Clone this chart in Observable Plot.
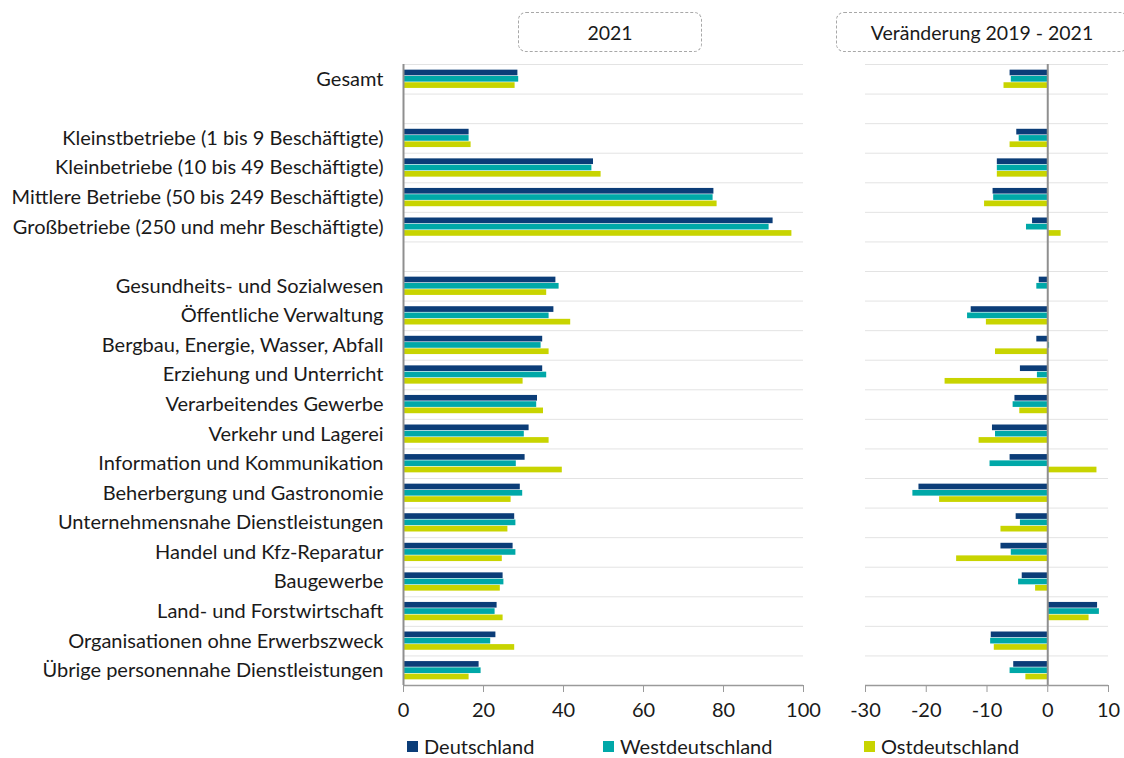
<!DOCTYPE html>
<html><head><meta charset="utf-8">
<script src="https://cdn.jsdelivr.net/npm/d3@7"></script>
<script src="https://cdn.jsdelivr.net/npm/@observablehq/plot@0.6"></script>
<style>
body{margin:0;background:#fff;overflow:hidden;font-family:Lato,sans-serif;}
#wrap{position:relative;width:1124px;height:758px;overflow:hidden;background:#fff;}
.panel{position:absolute;top:0;}
.box{position:absolute;top:12px;height:40px;border:1.5px dashed #a8a8a8;border-radius:8px;box-sizing:border-box;display:flex;align-items:center;justify-content:center;font-size:19.5px;color:#1a1a1a;background:#fff;}
.leg{position:absolute;top:735px;font-size:20px;line-height:22px;color:#1a1a1a;display:flex;align-items:center;height:22px;}
.sw{width:11px;height:11px;margin-right:6px;}
</style></head><body>
<div id="wrap"></div>
<script>
const categories = [
  "Gesamt", "",
  "Kleinstbetriebe (1 bis 9 Beschäftigte)",
  "Kleinbetriebe (10 bis 49 Beschäftigte)",
  "Mittlere Betriebe (50 bis 249 Beschäftigte)",
  "Großbetriebe (250 und mehr Beschäftigte)", " ",
  "Gesundheits- und Sozialwesen",
  "Öffentliche Verwaltung",
  "Bergbau, Energie, Wasser, Abfall",
  "Erziehung und Unterricht",
  "Verarbeitendes Gewerbe",
  "Verkehr und Lagerei",
  "Information und Kommunikation",
  "Beherbergung und Gastronomie",
  "Unternehmensnahe Dienstleistungen",
  "Handel und Kfz-Reparatur",
  "Baugewerbe",
  "Land- und Forstwirtschaft",
  "Organisationen ohne Erwerbszweck",
  "Übrige personennahe Dienstleistungen"
];
const seriesNames = ["Deutschland", "Westdeutschland", "Ostdeutschland"];
const seriesColors = ["#0b3d78", "#00a8a8", "#c8d400"];

// 2021 (%)
const deutschland2021 = [28.6, null, 16.4, 47.5, 77.6, 92.4, null, 38.1, 37.6, 34.8, 34.8, 33.5, 31.4, 30.4, 29.2, 27.8, 27.4, 24.9, 23.4, 23.1, 18.9];
const west2021        = [28.8, null, 16.4, 47.1, 77.4, 91.4, null, 38.9, 36.4, 34.4, 35.8, 33.3, 30.2, 28.2, 29.8, 28.1, 28.1, 25.1, 22.9, 21.8, 19.4];
const ost2021         = [27.9, null, 16.9, 49.4, 78.4, 97.1, null, 35.8, 41.8, 36.4, 29.9, 35.0, 36.4, 39.7, 26.9, 26.1, 24.7, 24.2, 24.9, 27.8, 16.4];

// Veränderung 2019 - 2021 (Prozentpunkte)
const deutschlandChange = [-6.2, null, -5.1, -8.3, -9.0, -2.5, null, -1.4, -12.6, -1.8, -4.5, -5.4, -9.1, -6.2, -21.2, -5.2, -7.7, -4.2, 8.2, -9.3, -5.6];
const westChange        = [-6.0, null, -4.7, -8.3, -8.9, -3.5, null, -1.8, -13.2, 0.3, -1.7, -5.7, -8.6, -9.5, -22.2, -4.5, -6.0, -4.8, 8.5, -9.4, -6.2];
const ostChange         = [-7.2, null, -6.2, -8.3, -10.4, 2.2, null, null, -10.1, -8.6, -16.9, -4.6, -11.3, 8.1, -17.8, -7.7, -15.0, -2.0, 6.8, -8.8, -3.6];

const xTicksLeft = [0, 20, 40, 60, 80, 100];
const xTicksRight = [-30, -20, -10, 0, 10];

const offsets = [-0.213, 0, 0.213];
const half = 0.096;

function toRows(arrays) {
  const out = [];
  categories.forEach((c, i) => {
    arrays.forEach((arr, s) => {
      const v = arr[i];
      if (v != null) out.push({row: i, series: seriesNames[s], s, value: v});
    });
  });
  return out;
}
const dataLeft = toRows([deutschland2021, west2021, ost2021]);
const dataRight = toRows([deutschlandChange, westChange, ostChange]);

const boundaries = categories.map((_, i) => i - 0.5);
const labelRows = categories.map((c, i) => i).filter(i => categories[i].trim() !== "");
const yDomain = [categories.length - 0.5, -0.5];
const textColor = "#1a1a1a";
const font = "Lato, sans-serif";

const color = {domain: seriesNames, range: seriesColors};

function barsMark(data) {
  return Plot.rect(data, {
    x1: () => 0,
    x2: "value",
    y1: d => d.row + offsets[d.s] - half,
    y2: d => d.row + offsets[d.s] + half,
    fill: "series"
  });
}

const left = Plot.plot({
  width: 830, height: 728,
  marginLeft: 403, marginRight: 27, marginTop: 64, marginBottom: 43,
  style: {fontFamily: font, fontSize: "20px", color: textColor, background: "transparent"},
  x: {domain: [0, 100], axis: null},
  y: {domain: yDomain, axis: null},
  color,
  marks: [
    Plot.gridY(boundaries, {stroke: "#e3e3e3", strokeOpacity: 1, strokeWidth: 1}),
    barsMark(dataLeft),
    Plot.ruleX([0], {stroke: "#8f8f8f", strokeWidth: 2}),
    Plot.ruleY([categories.length - 0.5], {stroke: "#9a9a9a", strokeWidth: 1.5}),
    Plot.axisX({ticks: xTicksLeft, label: null, tickSize: 7, tickPadding: 10, stroke: "#9a9a9a", fill: textColor, fontSize: 20, tickFormat: d => String(d)}),
    Plot.axisY({ticks: labelRows, label: null, tickFormat: i => categories[i], tickSize: 0, tickPadding: 20, fontSize: 20, fill: textColor})
  ]
});

const right = Plot.plot({
  width: 294, height: 728,
  marginLeft: 35, marginRight: 16, marginTop: 64, marginBottom: 43,
  style: {fontFamily: font, fontSize: "20px", color: textColor, background: "transparent"},
  x: {domain: [-30, 10], axis: null},
  y: {domain: yDomain, axis: null},
  color,
  marks: [
    Plot.gridY(boundaries, {stroke: "#e3e3e3", strokeOpacity: 1, strokeWidth: 1}),
    barsMark(dataRight),
    Plot.ruleX([0], {stroke: "#8f8f8f", strokeWidth: 2}),
    Plot.ruleY([categories.length - 0.5], {stroke: "#9a9a9a", strokeWidth: 1.5}),
    Plot.axisX({ticks: xTicksRight, label: null, tickSize: 7, tickPadding: 10, stroke: "#9a9a9a", fill: textColor, fontSize: 20, tickFormat: d => String(d)})
  ]
});

const wrap = document.getElementById("wrap");
left.classList.add("panel"); left.style.left = "0px";
right.classList.add("panel"); right.style.left = "830px";
wrap.appendChild(left);
wrap.appendChild(right);

const titles = [
  {text: "2021", left: 518, width: 184},
  {text: "Veränderung 2019 - 2021", left: 836, width: 292}
];
titles.forEach(t => {
  const b = document.createElement("div");
  b.className = "box";
  b.style.left = t.left + "px";
  b.style.width = t.width + "px";
  b.textContent = t.text;
  wrap.appendChild(b);
});

const legendX = [407, 603, 864];
seriesNames.forEach((n, i) => {
  const item = document.createElement("div");
  item.className = "leg";
  item.style.left = legendX[i] + "px";
  const sw = document.createElement("span");
  sw.className = "sw";
  sw.style.background = seriesColors[i];
  const tx = document.createElement("span");
  tx.textContent = n;
  item.appendChild(sw); item.appendChild(tx);
  wrap.appendChild(item);
});
</script>
</body></html>
